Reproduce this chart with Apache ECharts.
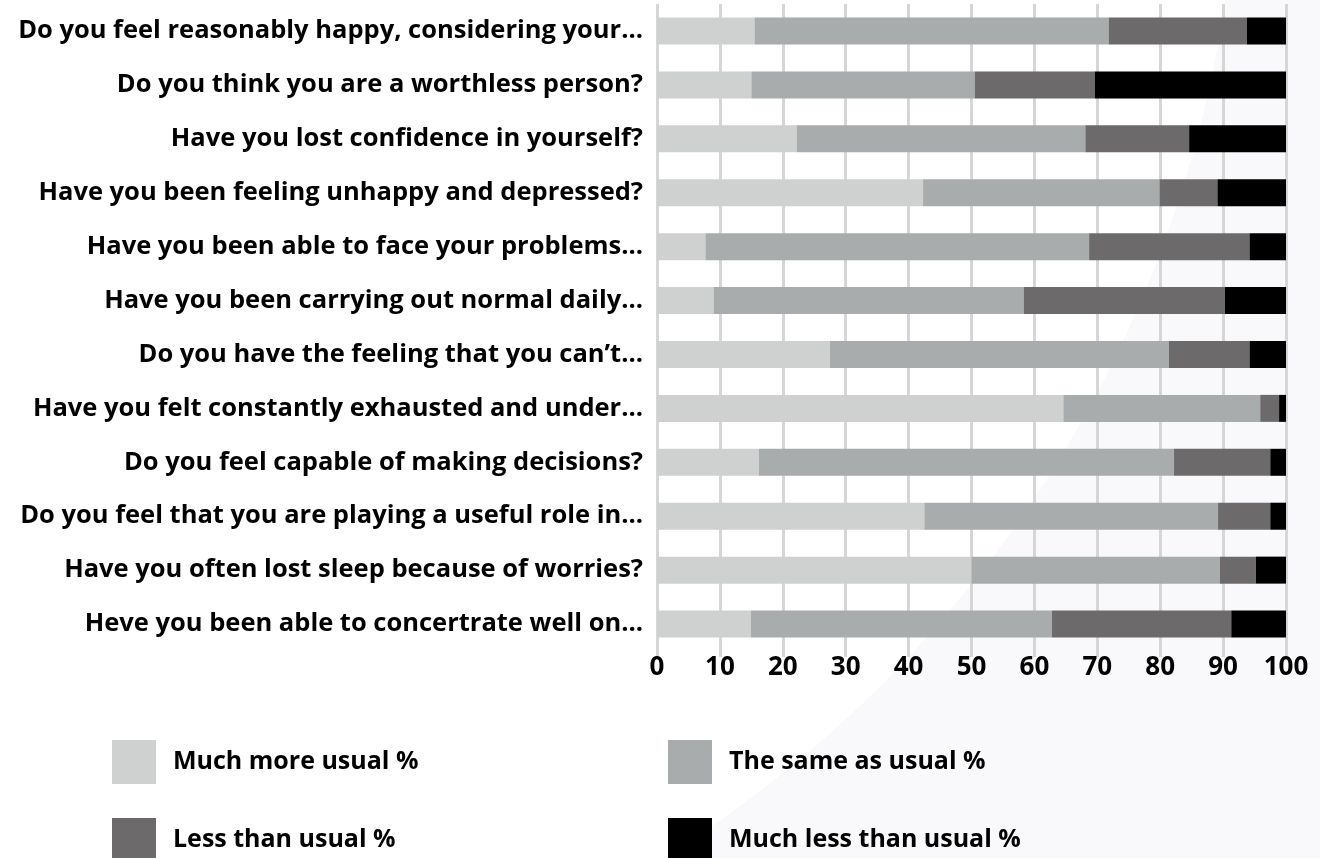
<!DOCTYPE html>
<html>
<head>
<meta charset="utf-8">
<script src="https://cdn.jsdelivr.net/npm/echarts@6/dist/echarts.min.js"></script>
<style>
  html,body{margin:0;padding:0;background:#fff;}
  #chart{width:1320px;height:858px;}
</style>
</head>
<body>
<div id="chart"></div>
<script>
const questions = [
  'Do you feel reasonably happy, considering your...',
  'Do you think you are a worthless person?',
  'Have you lost confidence in yourself?',
  'Have you been feeling unhappy and depressed?',
  'Have you been able to face your problems...',
  'Have you been carrying out normal daily...',
  'Do you have the feeling that you can\u2019t...',
  'Have you felt constantly exhausted and under...',
  'Do you feel capable of making decisions?',
  'Do you feel that you are playing a useful role in...',
  'Have you often lost sleep because of worries?',
  'Heve you been able to concertrate well on...'
];
const muchMore  = [15.5, 15.0, 22.2, 42.3,  7.7,  9.0, 27.5, 64.6, 16.2, 42.5, 50.0, 14.9];
const sameAs    = [56.3, 35.5, 45.9, 37.6, 61.0, 49.3, 53.9, 31.3, 66.0, 46.7, 39.5, 47.9];
const lessThan  = [22.0, 19.1, 16.5,  9.2, 25.5, 32.0, 12.8,  3.0, 15.3,  8.3,  5.7, 28.5];
const muchLess  = [ 6.2, 30.4, 15.4, 10.9,  5.8,  9.7,  5.8,  1.1,  2.5,  2.5,  4.8,  8.7];
const seriesNames = ['Much more usual %', 'The same as usual %', 'Less than usual %', 'Much less than usual %'];
const colors = ['#cfd1d0', '#a9acad', '#6d6a6b', '#000000'];

const font = '"Open Sans", "DejaVu Sans", sans-serif';
const chart = echarts.init(document.getElementById('chart'));

function legendAt(name, left, top){
  return {
    data:[name], left:left, top:top, padding:0, orient:'horizontal',
    itemWidth:44, itemHeight:44, icon:'rect',
    textStyle:{ fontFamily:font, fontWeight:'bold', fontSize:25, color:'#000', padding:[0,0,0,12] }
  };
}

chart.setOption({
  backgroundColor:'#f9f9fb',
  animation:false,
  color:colors,
  graphic:[{ type:'circle', z:-10, silent:true, shape:{cx:23, cy:-175, r:1215}, style:{fill:'#ffffff'} }],
  grid:{ left:657, right:34, top:4, bottom:207 },
  legend:[
    legendAt(seriesNames[0], 112, 740),
    legendAt(seriesNames[1], 668, 740),
    legendAt(seriesNames[2], 112, 818),
    legendAt(seriesNames[3], 668, 818)
  ],
  xAxis:{
    type:'value', min:0, max:100, interval:10,
    axisLine:{show:false},
    axisTick:{show:true, length:6, lineStyle:{color:'#d6d6d6', width:3}},
    splitLine:{show:true, lineStyle:{color:'#d6d6d6', width:3}},
    axisLabel:{ fontFamily:font, fontWeight:'bold', fontSize:26, color:'#000', margin:4 }
  },
  yAxis:{
    type:'category', data:questions, inverse:true,
    axisLine:{show:false}, axisTick:{show:false},
    axisLabel:{ fontFamily:font, fontWeight:'bold', fontSize:25.5, color:'#000', margin:14 }
  },
  series:[muchMore, sameAs, lessThan, muchLess].map((d,i)=>({
    name:seriesNames[i], type:'bar', stack:'total', barWidth:27, data:d,
    itemStyle:{color:colors[i]}
  }))
});
window.addEventListener('resize', function(){ chart.resize(); });
</script>
</body>
</html>
